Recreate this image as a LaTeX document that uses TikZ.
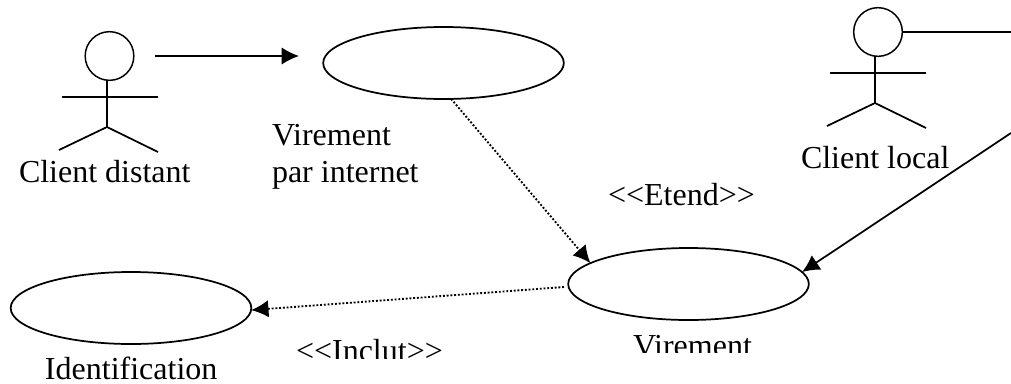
\documentclass[tikz,border=0pt]{standalone}
\usepackage{fontspec}
\setmainfont{Liberation Serif}
\usetikzlibrary{shapes.geometric,arrows.meta}
\tikzset{
  x=0.75pt,y=-0.75pt,
  usecase/.style={draw=black,ellipse,line width=1.3pt,minimum width=180.5pt,minimum height=54pt,inner sep=0pt,outer sep=0pt},
  head/.style={draw=black,circle,line width=1.1pt,minimum size=36.5pt,inner sep=0pt,outer sep=0pt},
  limb/.style={draw=black,line width=1.3pt},
  label/.style={anchor=base west,inner sep=0pt,outer sep=0pt,font=\fontsize{24}{28}\selectfont},
  solidarrow/.style={draw=black,line width=1.3pt,-{Latex[length=13pt,width=13pt]}},
  plainline/.style={draw=black,line width=1.3pt},
  dotarrow/.style={draw=black,line width=1.4pt,dash pattern=on 1.4pt off 1.4pt,-{Latex[length=13pt,width=13pt]}}
}
\begin{document}
\begin{tikzpicture}
\useasboundingbox (0,0) rectangle (1011,383);
% use cases
\node[usecase] (vi) at (443.5,63) {};
\node[usecase] (v) at (688.5,284) {};
\node[usecase] (id) at (131,308) {};
% actor 1
\node[head] (h1) at (109.5,56) {};
\coordinate (n1) at (107,127);
\coordinate (a1l) at (62,97);
\coordinate (a1r) at (158,97);
\coordinate (l1l) at (59,150);
\coordinate (l1r) at (158,152);
\draw[limb] (n1 |- h1.south) -- (n1);
\draw[limb] (a1l) -- (a1r);
\draw[limb] (l1l) -- (n1) -- (l1r);
% actor 2
\node[head] (h2) at (878,32) {};
\coordinate (n2) at (875,103);
\coordinate (a2l) at (830,73);
\coordinate (a2r) at (926,73);
\coordinate (l2l) at (827,126);
\coordinate (l2r) at (926,128);
\draw[limb] (n2 |- h2.south) -- (n2);
\draw[limb] (a2l) -- (a2r);
\draw[limb] (l2l) -- (n2) -- (l2r);
% connectors
\coordinate (s1) at (155,56);
\coordinate (t1) at (299,56);
\draw[solidarrow] (s1) -- (t1);
\coordinate (e2) at (1011,32);
\draw[plainline] (h2.east) -- (e2);
\coordinate (s3) at (1011,133);
\draw[solidarrow] (s3) -- (v.6);
\draw[dotarrow] (vi.-78) -- (v.168);
\coordinate (s4) at (564,287);
\draw[dotarrow] (s4) -- (id.-1.5);
% labels
\node[label] (cd) at (19,182) {Client distant};
\node[label] (vp1) at (272,145) {Virement};
\node[label] (vp2) at (272,182) {par internet};
\node[label] (cl) at (801,168) {Client local};
\node[label] (et) at (608,205) {<{}<Etend>{}>};
\node[label] (idt) at (45,379) {Identification};
\begin{scope}
\clip (280,330) rectangle (460,358);
\node[label] (inc) at (296,361) {<{}<Inclut>{}>};
\end{scope}
\begin{scope}
\clip (620,325) rectangle (770,352.5);
\node[label] (vt) at (633,356) {Virement};
\end{scope}
\end{tikzpicture}
\end{document}
